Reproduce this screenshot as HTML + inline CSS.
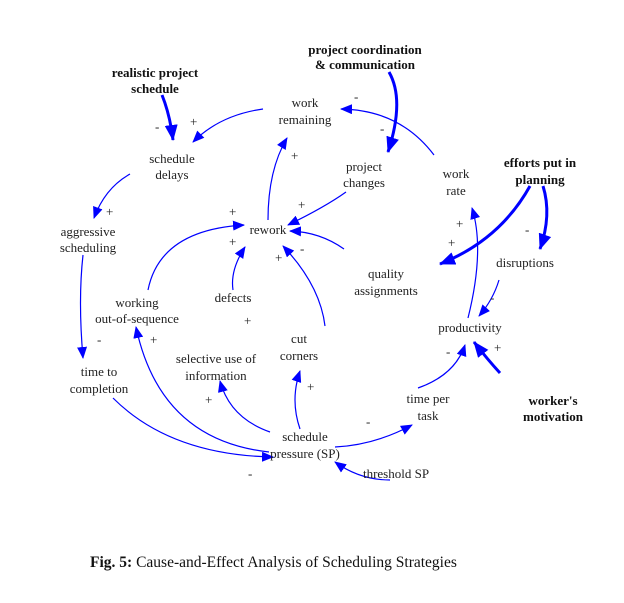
<!DOCTYPE html>
<html><head><meta charset="utf-8"><style>
html,body{margin:0;padding:0;background:#fff;}
svg{display:block;}
text{font-family:"Liberation Serif",serif;font-size:13px;fill:#222;}
.b{font-weight:bold;fill:#111;}
.s{font-size:12px;}
</style></head><body>
<svg width="624" height="603" viewBox="0 0 624 603" xmlns="http://www.w3.org/2000/svg">
<defs>
<marker id="a" markerWidth="12" markerHeight="10" refX="11" refY="5" orient="auto" markerUnits="userSpaceOnUse" viewBox="0 0 12 10"><path d="M0,0 L12,5 L0,10 Z" fill="#0000ff"/></marker>
<marker id="A" markerWidth="16" markerHeight="13" refX="15" refY="6.5" orient="auto" markerUnits="userSpaceOnUse" viewBox="0 0 16 13"><path d="M0,0 L16,6.5 L0,13 Z" fill="#0000ff"/></marker>
</defs>
<g fill="none" stroke="#0000ff" stroke-width="1.2">
<path d="M263,109 Q220,115 193,142" marker-end="url(#a)"/>
<path d="M130,174 Q105,188 94,218" marker-end="url(#a)"/>
<path d="M83,255 Q78,300 83,358" marker-end="url(#a)"/>
<path d="M113,398 Q170,455 273,457" marker-end="url(#a)"/>
<path d="M269,452 Q160,440 136,327" marker-end="url(#a)"/>
<path d="M270,432 Q230,418 220,381" marker-end="url(#a)"/>
<path d="M300,429 Q290,400 300,371" marker-end="url(#a)"/>
<path d="M335,447 Q375,445 412,425" marker-end="url(#a)"/>
<path d="M390,480 Q360,480 335,462" marker-end="url(#a)"/>
<path d="M418,388 Q455,375 465,345" marker-end="url(#a)"/>
<path d="M499,280 Q493,300 479,316" marker-end="url(#a)"/>
<path d="M468,318 Q485,250 472,208" marker-end="url(#a)"/>
<path d="M434,155 Q400,110 341,109" marker-end="url(#a)"/>
<path d="M346,192 Q325,207 288,225" marker-end="url(#a)"/>
<path d="M344,249 Q320,232 290,231" marker-end="url(#a)"/>
<path d="M325,326 Q320,285 283,246" marker-end="url(#a)"/>
<path d="M233,290 Q230,270 245,247" marker-end="url(#a)"/>
<path d="M148,290 Q160,230 244,225" marker-end="url(#a)"/>
<path d="M268,220 Q268,170 287,138" marker-end="url(#a)"/>
</g>
<g fill="none" stroke="#0000ff" stroke-width="3">
<path d="M162,95 Q170,115 173,140" marker-end="url(#A)"/>
<path d="M389,72 Q405,100 388,152" marker-end="url(#A)"/>
<path d="M530,186 Q500,240 440,264" marker-end="url(#A)"/>
<path d="M543,186 Q552,215 540,249" marker-end="url(#A)"/>
<path d="M500,373 Q488,360 474,342" marker-end="url(#A)"/>
</g>
<g>
<text class="b" x="365" y="54" text-anchor="middle">project coordination</text>
<text class="b" x="365" y="69" text-anchor="middle">&amp; communication</text>
<text class="b" x="155" y="77" text-anchor="middle">realistic project</text>
<text class="b" x="155" y="93" text-anchor="middle">schedule</text>
<text x="305" y="107" text-anchor="middle">work</text>
<text x="305" y="124" text-anchor="middle">remaining</text>
<text x="172" y="163" text-anchor="middle">schedule</text>
<text x="172" y="179" text-anchor="middle">delays</text>
<text x="364" y="171" text-anchor="middle">project</text>
<text x="364" y="187" text-anchor="middle">changes</text>
<text x="456" y="178" text-anchor="middle">work</text>
<text x="456" y="195" text-anchor="middle">rate</text>
<text class="b" x="540" y="167" text-anchor="middle">efforts put in</text>
<text class="b" x="540" y="184" text-anchor="middle">planning</text>
<text x="268" y="234" text-anchor="middle">rework</text>
<text x="88" y="236" text-anchor="middle">aggressive</text>
<text x="88" y="252" text-anchor="middle">scheduling</text>
<text x="386" y="278" text-anchor="middle">quality</text>
<text x="386" y="295" text-anchor="middle">assignments</text>
<text x="525" y="267" text-anchor="middle">disruptions</text>
<text x="137" y="307" text-anchor="middle">working</text>
<text x="137" y="323" text-anchor="middle">out-of-sequence</text>
<text x="233" y="302" text-anchor="middle">defects</text>
<text x="470" y="332" text-anchor="middle">productivity</text>
<text x="299" y="343" text-anchor="middle">cut</text>
<text x="299" y="360" text-anchor="middle">corners</text>
<text x="216" y="363" text-anchor="middle">selective use of</text>
<text x="216" y="380" text-anchor="middle">information</text>
<text x="99" y="376" text-anchor="middle">time to</text>
<text x="99" y="393" text-anchor="middle">completion</text>
<text x="428" y="403" text-anchor="middle">time per</text>
<text x="428" y="420" text-anchor="middle">task</text>
<text class="b" x="553" y="405" text-anchor="middle">worker's</text>
<text class="b" x="553" y="421" text-anchor="middle">motivation</text>
<text x="305" y="441" text-anchor="middle">schedule</text>
<text x="305" y="458" text-anchor="middle">pressure (SP)</text>
<text x="396" y="478" text-anchor="middle">threshold SP</text>
</g>
<g class="s">
<text x="155" y="131">-</text><text x="190" y="126">+</text>
<text x="354" y="101">-</text><text x="380" y="133">-</text>
<text x="291" y="160">+</text>
<text x="106" y="216">+</text>
<text x="229" y="216">+</text><text x="298" y="209">+</text>
<text x="229" y="246">+</text><text x="300" y="253">-</text><text x="275" y="262">+</text>
<text x="456" y="228">+</text><text x="448" y="247">+</text>
<text x="525" y="234">-</text>
<text x="490" y="302">-</text>
<text x="97" y="344">-</text><text x="150" y="344">+</text>
<text x="244" y="325">+</text>
<text x="446" y="356">-</text><text x="494" y="352">+</text>
<text x="307" y="391">+</text>
<text x="205" y="404">+</text>
<text x="366" y="426">-</text>
<text x="248" y="478">-</text>
</g>
<text x="90" y="567" style="font-size:15.5px;fill:#111"><tspan font-weight="bold">Fig. 5:</tspan> Cause-and-Effect Analysis of Scheduling Strategies</text>
</svg>
</body></html>
